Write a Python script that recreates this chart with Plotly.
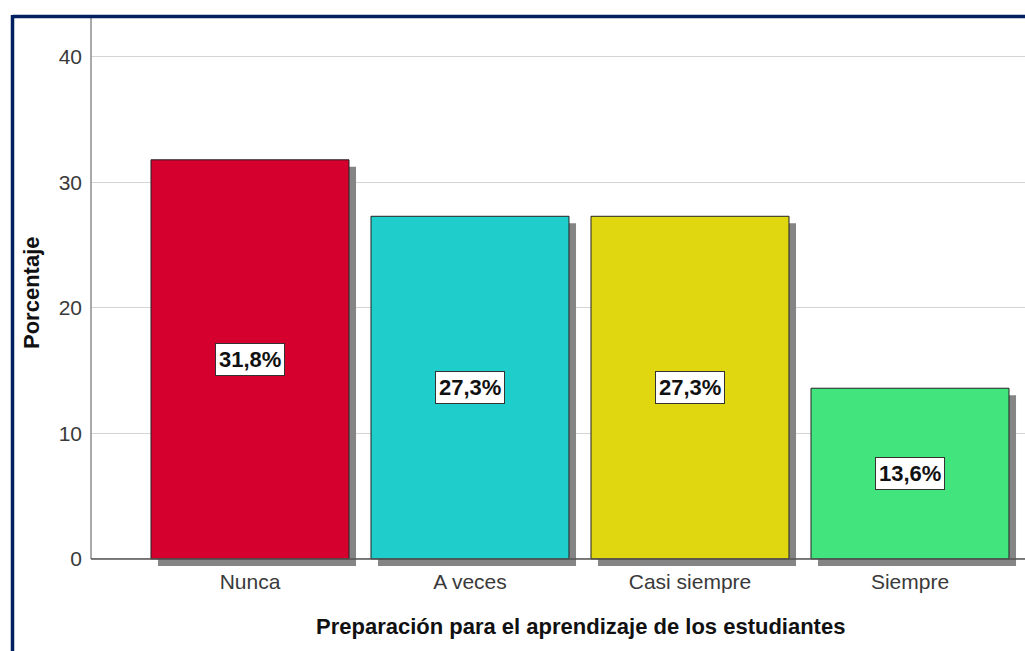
import plotly.graph_objects as go

categories = ["Nunca", "A veces", "Casi siempre", "Siempre"]
percentages = [31.8, 27.3, 27.3, 13.6]
value_labels = ["31,8%", "27,3%", "27,3%", "13,6%"]
bar_colors = ["#D6002F", "#1FCECB", "#E1D711", "#42E47E"]
y_ticks = [0, 10, 20, 30, 40]

W, H = 1025, 651
PLOT_BOTTOM = 567  # viewport px
ML, MR, MT, MB = 91, 0, 18, H - PLOT_BOTTOM
PW, PH = W - ML - MR, H - MT - MB
YTOP = 43.1
YBOT = YTOP - PH / 12.55


def px_x(p):
    return (p - ML) / PW


def px_y(p):
    return (PLOT_BOTTOM - p) / PH


fig = go.Figure()

# shadows
fig.add_trace(go.Bar(
    x=list(range(len(categories))), y=percentages, base=-0.56,
    width=0.9, offset=-0.418,
    marker=dict(color="#858585", line=dict(width=0)),
    hoverinfo="skip", showlegend=False))
# bars
fig.add_trace(go.Bar(
    x=list(range(len(categories))), y=percentages,
    width=0.9, offset=-0.45,
    marker=dict(color=bar_colors, line=dict(color="#222222", width=1)),
    showlegend=False))

font_family = "Liberation Sans, Arial, sans-serif"
for i, (v, t) in enumerate(zip(percentages, value_labels)):
    fig.add_annotation(x=i, y=v / 2, text=f"<b>{t}</b>", showarrow=False,
                       font=dict(family=font_family, size=22, color="#111111"),
                       bgcolor="white", bordercolor="#333333", borderwidth=1,
                       borderpad=3)

fig.add_annotation(x=px_x(580), y=px_y(626), xref="paper", yref="paper",
                   text="<b>Preparación para el aprendizaje de los estudiantes</b>",
                   showarrow=False, font=dict(family=font_family, size=22, color="#111111"),
                   xanchor="center", yanchor="middle")
fig.add_annotation(x=px_x(31), y=px_y(293), xref="paper", yref="paper",
                   text="<b>Porcentaje</b>", textangle=-90,
                   showarrow=False, font=dict(family=font_family, size=22, color="#111111"),
                   xanchor="center", yanchor="middle")

shapes = [
    dict(type="line", xref="paper", yref="y", x0=0, x1=0, y0=0, y1=YTOP,
         line=dict(color="#8c8c8c", width=1.5)),
    dict(type="line", xref="paper", yref="y", x0=0, x1=1, y0=0, y1=0,
         line=dict(color="#555555", width=1.5)),
    dict(type="line", xref="paper", yref="paper", x0=px_x(12.5), x1=1.01,
         y0=px_y(16.5), y1=px_y(16.5),
         line=dict(color="#002060", width=3.5)),
    dict(type="line", xref="paper", yref="paper", x0=px_x(12.5), x1=px_x(12.5),
         y0=px_y(15), y1=-0.3,
         line=dict(color="#002060", width=3.5)),
]

fig.update_layout(
    width=W, height=H,
    margin=dict(l=ML, r=MR, t=MT, b=MB),
    paper_bgcolor="white", plot_bgcolor="white",
    barmode="overlay",
    shapes=shapes,
    hovermode=False,
    xaxis=dict(range=[-0.7227, -0.7227 + PW / 220], tickvals=list(range(len(categories))),
               ticktext=categories, showgrid=False, zeroline=False, showline=False,
               ticks="", tickfont=dict(family=font_family, size=21, color="#3a3a3a"),
               fixedrange=True),
    yaxis=dict(range=[YBOT, YTOP], tickvals=y_ticks, showgrid=True, gridcolor="#d4d4d4",
               gridwidth=1, zeroline=False, showline=False, ticks="",
               ticklabelstandoff=8,
               tickfont=dict(family=font_family, size=21, color="#3a3a3a"),
               fixedrange=True),
)

fig.write_html("out.html",
               config={"displayModeBar": False},
               post_script="document.body.style.margin='0px';"
                           "document.body.style.overflow='hidden';")
